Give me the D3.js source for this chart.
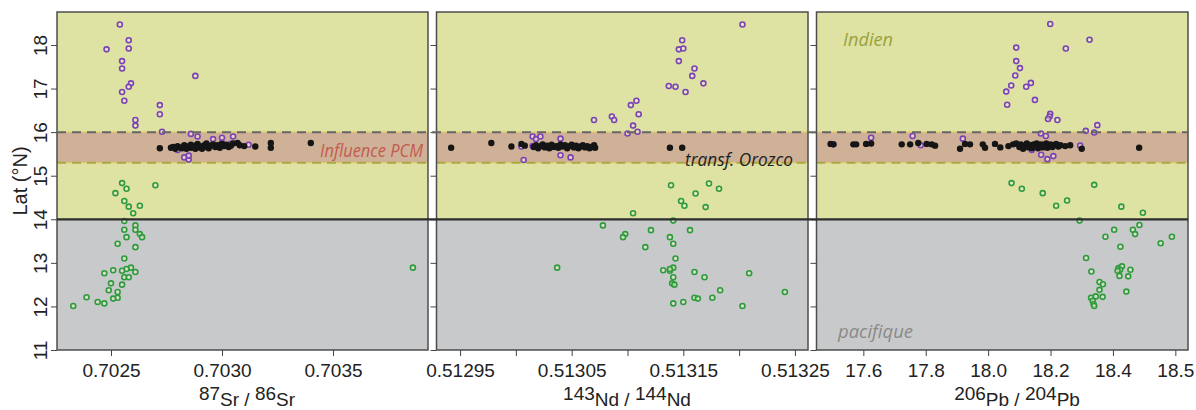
<!DOCTYPE html>
<html><head><meta charset="utf-8">
<script src="https://cdn.jsdelivr.net/npm/d3@7"></script>
<style>body{margin:0;background:#fff} svg{display:block}</style>
</head><body><svg id="c" width="1196" height="410"></svg>
<script>
const latTicks = [11,12,13,14,15,16,17,18];
const srTicks = [0.7025,0.7030,0.7035];
const srTickLabels = ["0.7025","0.7030","0.7035"];
const ndTicks = [0.51295,0.51300,0.51305,0.51310,0.51315,0.51320,0.51325];
const ndTickLabels = ["0.51295","","0.51305","","0.51315","","0.51325"];
const pbTicks = [17.6,17.8,18.0,18.2,18.4,18.6];
const pbTickLabels = ["17.6","17.8","18.0","18.2","18.4","18.5"];

const srPurple = [[0.70254,18.47],[0.70248,17.90],[0.70258,18.11],[0.70258,17.92],[0.70255,17.63],[0.70255,17.46],[0.70259,17.12],[0.70258,17.04],[0.70255,16.92],[0.70256,16.72],[0.70261,16.28],[0.70261,16.15],[0.70288,17.29],[0.70272,16.62],[0.70272,16.41],[0.70273,16.01],[0.70286,15.96],[0.70289,15.90],[0.70296,15.84],[0.70300,15.87],[0.70305,15.90],[0.70312,15.71],[0.70283,15.42],[0.70285,15.37],[0.70285,15.46],[0.70280,15.59],[0.70304,15.73],[0.70300,15.75]];
const srGreen = [[0.70255,14.83],[0.70252,14.60],[0.70257,14.70],[0.70256,14.42],[0.70258,14.29],[0.70263,14.31],[0.70260,14.14],[0.70270,14.78],[0.70256,13.96],[0.70261,13.86],[0.70261,13.76],[0.70256,13.76],[0.70263,13.66],[0.70264,13.59],[0.70257,13.59],[0.70253,13.44],[0.70261,13.36],[0.70256,13.10],[0.70259,12.89],[0.70257,12.86],[0.70255,12.82],[0.70251,12.83],[0.70247,12.76],[0.70261,12.79],[0.70256,12.67],[0.70258,12.67],[0.70250,12.53],[0.70255,12.50],[0.70249,12.37],[0.70253,12.33],[0.70253,12.20],[0.70251,12.18],[0.70239,12.21],[0.70244,12.10],[0.70247,12.07],[0.70233,12.01],[0.70386,12.89]];
const srBlack = [[0.70272,15.63],[0.70277,15.64],[0.70278,15.66],[0.70279,15.62],[0.70280,15.68],[0.70281,15.65],[0.70282,15.63],[0.70283,15.70],[0.70283,15.66],[0.70284,15.62],[0.70285,15.68],[0.70286,15.64],[0.70286,15.71],[0.70287,15.66],[0.70288,15.62],[0.70288,15.69],[0.70289,15.73],[0.70290,15.65],[0.70290,15.68],[0.70291,15.62],[0.70292,15.70],[0.70293,15.66],[0.70293,15.74],[0.70294,15.63],[0.70295,15.69],[0.70296,15.72],[0.70297,15.66],[0.70298,15.70],[0.70299,15.64],[0.70300,15.73],[0.70301,15.68],[0.70302,15.71],[0.70303,15.66],[0.70304,15.69],[0.70305,15.74],[0.70307,15.75],[0.70308,15.70],[0.70310,15.68],[0.70315,15.67],[0.70322,15.75],[0.70322,15.64],[0.70340,15.75]];

const ndPurple = [[0.513203,18.47],[0.513149,18.11],[0.513146,17.90],[0.513150,17.92],[0.513146,17.63],[0.513160,17.46],[0.513158,17.29],[0.513168,17.12],[0.513137,17.06],[0.513143,17.04],[0.513152,16.92],[0.513108,16.72],[0.513103,16.62],[0.513110,16.41],[0.513070,16.28],[0.513086,16.36],[0.513088,16.28],[0.513105,16.15],[0.513109,16.01],[0.513100,15.97],[0.513015,15.90],[0.513022,15.90],[0.513018,15.84],[0.513040,15.85],[0.513040,15.47],[0.513049,15.42],[0.513007,15.36],[0.513005,15.67],[0.513015,15.68]];
const ndGreen = [[0.513139,14.78],[0.513173,14.82],[0.513182,14.70],[0.513161,14.59],[0.513148,14.42],[0.513151,14.31],[0.513170,14.28],[0.513105,14.14],[0.513141,13.97],[0.513078,13.86],[0.513121,13.75],[0.513156,13.75],[0.513098,13.66],[0.513096,13.59],[0.513138,13.59],[0.513141,13.44],[0.513116,13.36],[0.513143,13.10],[0.513037,12.89],[0.513141,12.89],[0.513132,12.83],[0.513138,12.82],[0.513138,12.86],[0.513160,12.79],[0.513209,12.76],[0.513141,12.67],[0.513169,12.67],[0.513140,12.53],[0.513142,12.50],[0.513183,12.37],[0.513241,12.33],[0.513160,12.20],[0.513163,12.18],[0.513176,12.20],[0.513150,12.10],[0.513141,12.07],[0.513203,12.01]];
const ndBlack = [[0.512942,15.64],[0.512978,15.75],[0.512996,15.67],[0.513005,15.73],[0.513008,15.69],[0.513016,15.66],[0.513018,15.70],[0.513020,15.63],[0.513022,15.68],[0.513024,15.72],[0.513026,15.65],[0.513028,15.69],[0.513030,15.63],[0.513032,15.71],[0.513034,15.66],[0.513036,15.68],[0.513038,15.64],[0.513040,15.72],[0.513042,15.67],[0.513044,15.70],[0.513046,15.63],[0.513048,15.68],[0.513050,15.71],[0.513052,15.65],[0.513054,15.69],[0.513056,15.63],[0.513058,15.67],[0.513060,15.70],[0.513062,15.65],[0.513064,15.68],[0.513066,15.63],[0.513068,15.66],[0.513070,15.70],[0.513071,15.64],[0.513138,15.64],[0.513149,15.64]];

const pbPurple = [[18.199,18.48],[18.325,18.12],[18.249,17.92],[18.090,17.94],[18.090,17.63],[18.102,17.47],[18.087,17.30],[18.074,17.07],[18.122,17.04],[18.137,17.13],[18.058,16.93],[18.150,16.74],[18.061,16.63],[18.199,16.42],[18.197,16.36],[18.192,16.30],[18.222,16.28],[18.350,16.16],[18.313,16.03],[18.340,15.99],[18.169,15.97],[18.185,15.91],[17.625,15.87],[17.758,15.91],[17.919,15.85],[17.784,15.70],[17.504,15.72],[18.295,15.69],[18.170,15.48],[18.209,15.45],[18.190,15.38],[18.140,15.59]];
const pbGreen = [[18.075,14.83],[18.108,14.70],[18.175,14.60],[18.340,14.79],[18.253,14.43],[18.218,14.31],[18.427,14.29],[18.496,14.15],[18.293,13.97],[18.485,13.87],[18.464,13.76],[18.471,13.66],[18.404,13.76],[18.376,13.60],[18.589,13.60],[18.553,13.45],[18.424,13.37],[18.314,13.11],[18.331,12.80],[18.418,12.88],[18.429,12.92],[18.423,12.84],[18.415,12.82],[18.421,12.70],[18.456,12.84],[18.449,12.69],[18.357,12.56],[18.368,12.51],[18.357,12.38],[18.443,12.34],[18.330,12.20],[18.345,12.23],[18.367,12.22],[18.335,12.13],[18.338,12.05],[18.340,12.01]];
const pbBlack = [[17.495,15.73],[17.504,15.72],[17.568,15.72],[17.577,15.72],[17.609,15.73],[17.625,15.74],[17.723,15.72],[17.750,15.72],[17.776,15.75],[17.803,15.73],[17.819,15.72],[17.830,15.69],[17.910,15.62],[17.926,15.73],[17.942,15.72],[17.983,15.72],[17.990,15.64],[18.022,15.73],[18.039,15.65],[18.065,15.68],[18.080,15.72],[18.090,15.74],[18.100,15.66],[18.105,15.72],[18.112,15.62],[18.118,15.69],[18.124,15.74],[18.130,15.65],[18.135,15.70],[18.140,15.63],[18.146,15.72],[18.150,15.67],[18.156,15.74],[18.160,15.63],[18.165,15.69],[18.170,15.72],[18.175,15.65],[18.180,15.70],[18.186,15.74],[18.190,15.64],[18.196,15.68],[18.200,15.72],[18.206,15.66],[18.212,15.70],[18.218,15.73],[18.225,15.67],[18.232,15.70],[18.247,15.68],[18.263,15.70],[18.300,15.62],[18.484,15.64]];

const latRange = [11, 18.757];
const pacificZone = [11, 14];
const bandZone = [15.3, 16.0];

const YEL = "#dee2a2", GREY = "#c8c9cb", TAN = "#cfb197", PURPLE = "#7b43b6", GREEN = "#2f9c3c";

const panels = [
  {x0:57, x1:428, domain:[0.7022568,0.703928], ticks:srTicks, labels:srTickLabels, purple:srPurple, green:srGreen, black:srBlack, t:["87","Sr","86","Sr"], tx:247},
  {x0:436.5, x1:808, domain:[0.5129289,0.5132617], ticks:ndTicks, labels:ndTickLabels, purple:ndPurple, green:ndGreen, black:ndBlack, t:["143","Nd","144","Nd"], tx:627},
  {x0:816.5, x1:1188, domain:[17.4499,18.6406], ticks:pbTicks, labels:pbTickLabels, purple:pbPurple, green:pbGreen, black:pbBlack, t:["206","Pb","204","Pb"], tx:1017}
];

const svg = d3.select("#c");
const y = d3.scaleLinear().domain(latRange).range([350, 12]);
const FONT = "'Liberation Sans', Arial, sans-serif";
const IFONT = "'Open Sans', 'Noto Sans', sans-serif";

const defs = svg.append("defs");

panels.forEach((p, i) => {
  const x = d3.scaleLinear().domain(p.domain).range([p.x0, p.x1]);
  const g = svg.append("g");
  const w = p.x1 - p.x0;
  defs.append("clipPath").attr("id","clip"+i).append("rect")
    .attr("x",p.x0).attr("y",y(latRange[1])).attr("width",w).attr("height",y(latRange[0])-y(latRange[1]));
  g.append("rect").attr("x",p.x0).attr("width",w).attr("y",y(latRange[1])).attr("height",y(pacificZone[1])-y(latRange[1])).attr("fill",YEL);
  g.append("rect").attr("x",p.x0).attr("width",w).attr("y",y(pacificZone[1])).attr("height",y(pacificZone[0])-y(pacificZone[1])).attr("fill",GREY);
  g.append("rect").attr("x",p.x0).attr("width",w).attr("y",y(bandZone[1])).attr("height",y(bandZone[0])-y(bandZone[1])).attr("fill",TAN);
  [bandZone[1], bandZone[0]].forEach(v => {
    g.append("line").attr("x1",p.x0).attr("x2",p.x1).attr("y1",y(v)).attr("y2",y(v))
      .attr("stroke","#e2c86c").attr("stroke-width",1.2);
  });
  g.append("line").attr("x1",p.x0).attr("x2",p.x1).attr("y1",y(bandZone[0])).attr("y2",y(bandZone[0]))
    .attr("stroke","#a9aa45").attr("stroke-width",2).attr("stroke-dasharray","9,6");

  const pts = g.append("g").attr("clip-path",`url(#clip${i})`);
  pts.selectAll(".pu").data(p.purple).join("circle")
    .attr("cx",d=>x(d[0])).attr("cy",d=>y(d[1])).attr("r",2.5)
    .attr("fill","#efe9d0").attr("fill-opacity",0.6).attr("stroke",PURPLE).attr("stroke-width",1.6);
  pts.selectAll(".gr").data(p.green).join("circle")
    .attr("cx",d=>x(d[0])).attr("cy",d=>y(d[1])).attr("r",2.5)
    .attr("fill","#e6ead0").attr("fill-opacity",0.6).attr("stroke",GREEN).attr("stroke-width",1.6);
  pts.selectAll(".bk").data(p.black).join("circle")
    .attr("cx",d=>x(d[0])).attr("cy",d=>y(d[1])).attr("r",3.2)
    .attr("fill","#151515");

  g.append("rect").attr("x",p.x0).attr("width",w).attr("y",y(latRange[1])).attr("height",y(latRange[0])-y(latRange[1]))
    .attr("fill","none").attr("stroke","#4d4d4d").attr("stroke-width",1.5);

  const ax = g.append("g").attr("transform","translate(0,350)")
    .call(d3.axisBottom(x).tickValues(p.ticks).tickFormat((d,j)=>p.labels[j]).tickSize(6).tickPadding(8));
  ax.select(".domain").remove();
  ax.selectAll(".tick line").attr("stroke","#444").attr("stroke-width",1);
  ax.selectAll("text").attr("font-family",FONT).attr("font-size",19).attr("fill","#222");

  const ay = g.append("g").attr("transform",`translate(${p.x0},0)`)
    .call(d3.axisLeft(y).tickValues(latTicks).tickSize(6).tickFormat(i===0 ? d3.format("d") : () => ""));
  ay.select(".domain").remove();
  ay.selectAll(".tick line").attr("stroke","#444").attr("stroke-width",1);
  ay.selectAll("text").attr("font-family",FONT).attr("font-size",19).attr("fill","#222")
    .attr("transform","rotate(-90)").attr("x",0).attr("y",-10).attr("dy",0).attr("text-anchor","middle");

  const tt = svg.append("text").attr("x",p.tx).attr("y",406).attr("text-anchor","middle")
    .attr("font-family",FONT).attr("font-size",19).attr("fill","#222");
  tt.append("tspan").attr("dy",-6).text(p.t[0]);
  tt.append("tspan").attr("dy",6).text(p.t[1]);
  tt.append("tspan").text(" / ");
  tt.append("tspan").attr("dy",-6).text(p.t[2]);
  tt.append("tspan").attr("dy",6).text(p.t[3]);
});

svg.append("line").attr("x1",57).attr("x2",1188).attr("y1",y(bandZone[1])).attr("y2",y(bandZone[1]))
  .attr("stroke","#666").attr("stroke-width",2).attr("stroke-dasharray","9,6");
svg.append("line").attr("x1",57).attr("x2",1188).attr("y1",y(pacificZone[1])).attr("y2",y(pacificZone[1]))
  .attr("stroke","#2e2e2e").attr("stroke-width",2.2);

svg.append("text").attr("x",423).attr("y",157).attr("text-anchor","end").attr("font-family",IFONT)
  .attr("font-style","italic").attr("font-size",18).attr("fill","#c45b50")
  .attr("textLength",103).attr("lengthAdjust","spacingAndGlyphs").text("Influence PCM");
svg.append("text").attr("x",685).attr("y",166).attr("font-family",IFONT)
  .attr("font-style","italic").attr("font-size",18).attr("fill","#1f1f1f")
  .attr("textLength",108).attr("lengthAdjust","spacingAndGlyphs").text("transf. Orozco");
svg.append("text").attr("x",843).attr("y",46).attr("font-family",IFONT)
  .attr("font-style","italic").attr("font-size",19).attr("fill","#9aa23a")
  .attr("textLength",50).attr("lengthAdjust","spacingAndGlyphs").text("Indien");
svg.append("text").attr("x",838).attr("y",338).attr("font-family",IFONT)
  .attr("font-style","italic").attr("font-size",19).attr("fill","#8a8a8a")
  .attr("textLength",75).attr("lengthAdjust","spacingAndGlyphs").text("pacifique");

svg.append("text").attr("transform","translate(27,181) rotate(-90)").attr("text-anchor","middle")
  .attr("font-family",FONT).attr("font-size",20).attr("fill","#222").text("Lat (°N)");
</script></body></html>
